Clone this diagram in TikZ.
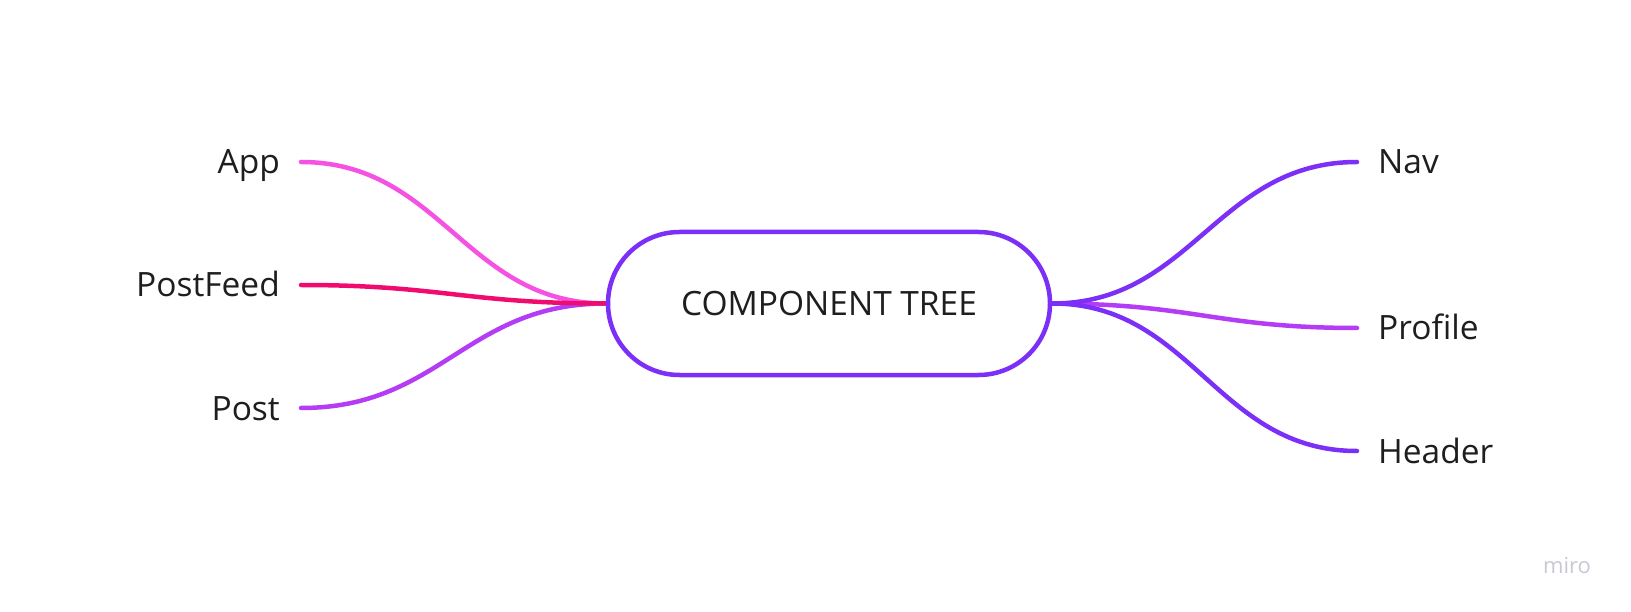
\documentclass[tikz,border=0pt]{standalone}
\usepackage{fontspec}
\setmainfont{Open Sans}
\usepackage{tikz}
\usetikzlibrary{backgrounds}
\usetikzlibrary{positioning}
\definecolor{violet}{RGB}{123,47,247}
\definecolor{lilac}{RGB}{180,60,245}
\definecolor{pinkline}{RGB}{245,82,228}
\definecolor{crimson}{RGB}{240,12,110}
\definecolor{ink}{RGB}{30,30,30}
\definecolor{logo}{RGB}{200,200,212}

\begin{document}
\begin{tikzpicture}[x=1pt, y=-1pt]
	\tikzstyle{root}=[draw=violet, fill=white, line width=4.5pt, rounded corners=71.5pt,
	                  minimum width=442pt, minimum height=143pt, text=ink,
	                  font=\fontsize{33.5}{40}\selectfont];
	\tikzstyle{leaf}=[text=ink, inner xsep=21pt, inner ysep=0pt, text height=24pt,
	                  text depth=0pt, font=\fontsize{33.5}{40}\selectfont];
	\tikzstyle{link}=[line width=4.5pt, line cap=round];
	\useasboundingbox (0,0) rectangle (1631,612);
	\node[root] (tree) at (829,303.5) {COMPONENT TREE};
	\foreach \n/\t/\y in {app/App/162, feed/PostFeed/285, post/Post/408}
	{\node[leaf, anchor=east] (\n) at (301,\y) {\t};}
	\foreach \n/\t/\y in {nav/Nav/162, profile/Profile/328, header/Header/451}
	{\node[leaf, anchor=west] (\n) at (1357,\y) {\t};}
	\begin{scope}[on background layer]
	\foreach \n/\c in {post/lilac, app/pinkline, feed/crimson}
	{\draw[link, \c] (tree.west) .. controls +(-140,0) and +(140,0) .. (\n.east);}
	\foreach \n/\c in {profile/lilac, nav/violet, header/violet}
	{\draw[link, \c] (tree.east) .. controls +(140,0) and +(-140,0) .. (\n.west);}
	\end{scope}
	\node[text=logo, font=\fontsize{22}{26}\selectfont] (miro) at (1567,566) {miro};
\end{tikzpicture}
\end{document}
